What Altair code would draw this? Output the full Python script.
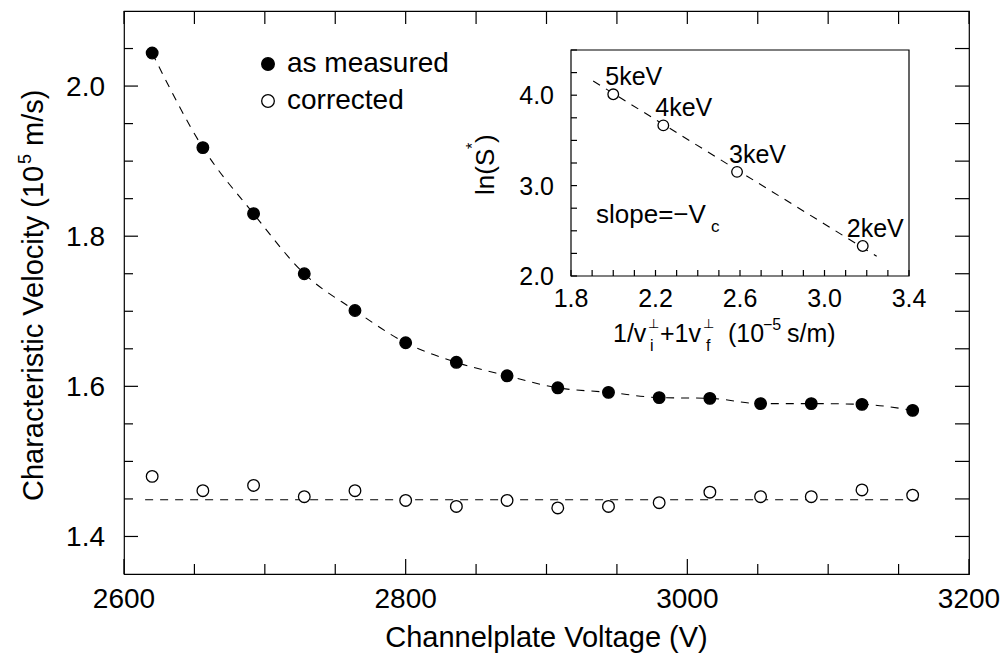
import altair as alt
import pandas as pd

FONT = "Liberation Sans"

# ---------------- main panel data ----------------
voltage = [2620, 2656, 2692, 2728, 2764, 2800, 2836, 2872,
           2908, 2944, 2980, 3016, 3052, 3088, 3124, 3160]
v_measured = [2.044, 1.918, 1.830, 1.750, 1.701, 1.658, 1.632, 1.614,
              1.598, 1.592, 1.585, 1.584, 1.577, 1.577, 1.576, 1.568]
v_corrected = [1.480, 1.461, 1.468, 1.453, 1.461, 1.448, 1.440, 1.448,
               1.438, 1.440, 1.445, 1.459, 1.453, 1.453, 1.462, 1.455]
series_names = ["as measured", "corrected"]
series_fill = ["black", "white"]
corr_fit_voltage = [2615, 3165]
corr_fit_value = [1.449, 1.449]

x_domain = [2600, 3200]
y_domain = [1.35, 2.1]
x_major = [2600, 2800, 3000, 3200]
x_minor = [2650, 2700, 2750, 2850, 2900, 2950, 3050, 3100, 3150]
y_major = [1.4, 1.6, 1.8, 2.0]
y_minor = [1.45, 1.5, 1.55, 1.65, 1.7, 1.75, 1.85, 1.9, 1.95, 2.05]

x_title = "Channelplate Voltage (V)"
y_title_parts = ["Characteristic Velocity (10", "5", "m/s)"]

# ---------------- inset data ----------------
inset_x = [2.0, 2.237, 2.586, 3.181]
inset_y = [4.01, 3.666, 3.152, 2.332]
inset_labels = ["5keV", "4keV", "3keV", "2keV"]
inset_fit_x = [1.905, 3.247]
inset_fit_y = [4.157, 2.218]
inset_x_domain = [1.8, 3.4]
inset_y_domain = [2.0, 4.5]
inset_x_ticks = [1.8, 1.9, 2.0, 2.1, 2.2, 2.3, 2.4, 2.5, 2.6, 2.7, 2.8,
                 2.9, 3.0, 3.1, 3.2, 3.3, 3.4]
inset_x_labels = [1.8, 2.2, 2.6, 3.0, 3.4]
inset_y_ticks = [2.0, 2.25, 2.5, 2.75, 3.0, 3.25, 3.5, 3.75, 4.0, 4.25, 4.5]
inset_y_labels = [2.0, 3.0, 4.0]
inset_x_title_parts = ["1/v", "i", "\u22a5", "+1v", "f", "\u22a5", "(10", "\u22125", "s/m)"]
inset_y_title_parts = ["ln(S", "*", ")"]
slope_parts = ["slope=\u2212V", "c"]

# ---------------- layout ----------------
W, H = 845, 563
IX0, IX1, IY0, IY1 = 447, 785, 265, 39

xs = alt.Scale(domain=x_domain, nice=False, zero=False)
ys = alt.Scale(domain=y_domain, nice=False, zero=False)
ixs = alt.Scale(domain=inset_x_domain, range=[IX0, IX1], nice=False, zero=False)
iys = alt.Scale(domain=inset_y_domain, range=[IY0, IY1], nice=False, zero=False)

RULE = dict(color="black", strokeWidth=1.2)


def xticks(values, scale, y0, y1):
    return alt.Chart(pd.DataFrame({"v": values})).mark_rule(**RULE).encode(
        x=alt.X("v:Q", scale=scale, axis=None), y=alt.value(y0), y2=alt.value(y1))


def yticks(values, scale, x0, x1):
    return alt.Chart(pd.DataFrame({"v": values})).mark_rule(**RULE).encode(
        y=alt.Y("v:Q", scale=scale, axis=None), x=alt.value(x0), x2=alt.value(x1))


def xlabels(values, scale, y, size, fmt):
    return alt.Chart(pd.DataFrame({"v": values})).transform_calculate(
        lab=f"format(datum.v, '{fmt}')").mark_text(
        align="center", baseline="alphabetic", font=FONT, fontSize=size, color="black").encode(
        x=alt.X("v:Q", scale=scale, axis=None), y=alt.value(y), text="lab:N")


def ylabels(values, scale, x, size, fmt, dy):
    return alt.Chart(pd.DataFrame({"v": values})).transform_calculate(
        lab=f"format(datum.v, '{fmt}')").mark_text(
        align="right", baseline="alphabetic", font=FONT, fontSize=size, color="black", dy=dy).encode(
        y=alt.Y("v:Q", scale=scale, axis=None), x=alt.value(x), text="lab:N")


def piece(text, x, y, size, angle=0, align="left"):
    return alt.Chart(pd.DataFrame({"t": [text]})).mark_text(
        align=align, baseline="alphabetic", font=FONT, fontSize=size,
        color="black", angle=angle).encode(text="t:N", x=alt.value(x), y=alt.value(y))


# ---------------- main panel ----------------
meas = pd.DataFrame({"voltage": voltage, "velocity": v_measured})
corr_fit = pd.DataFrame({"voltage": corr_fit_voltage, "velocity": corr_fit_value})
pts = pd.DataFrame({
    "voltage": voltage + voltage,
    "velocity": v_measured + v_corrected,
    "series": [series_names[0]] * len(voltage) + [series_names[1]] * len(voltage),
})

DASH = dict(color="black", strokeWidth=1.1, strokeDash=[8, 7])

fit_line = alt.Chart(meas).mark_line(interpolate="monotone", **DASH).encode(
    x=alt.X("voltage:Q", scale=xs, axis=None),
    y=alt.Y("velocity:Q", scale=ys, axis=None))
corr_line = alt.Chart(corr_fit).mark_line(**DASH).encode(
    x=alt.X("voltage:Q", scale=xs, axis=None),
    y=alt.Y("velocity:Q", scale=ys, axis=None))

points = alt.Chart(pts).mark_point(shape="circle", filled=True, size=135, stroke="black",
                                   strokeWidth=1.3, opacity=1).encode(
    x=alt.X("voltage:Q", scale=xs, axis=None),
    y=alt.Y("velocity:Q", scale=ys, axis=None),
    fill=alt.Fill("series:N", scale=alt.Scale(domain=series_names, range=series_fill),
                  legend=alt.Legend(orient="none", legendX=130, legendY=39, title=None,
                                    labelFont=FONT, labelFontSize=28, labelColor="black",
                                    labelLimit=400, labelOffset=5, symbolType="circle",
                                    symbolSize=160, symbolStrokeColor="black",
                                    symbolStrokeWidth=1.3, rowPadding=9, padding=0)))

main = alt.layer(
    fit_line, corr_line,
    xticks(x_major, xs, H, H - 15), xticks(x_minor, xs, H, H - 10),
    xticks(x_major + x_minor, xs, 0, 13),
    yticks(y_major, ys, 0, 14), yticks(y_minor, ys, 0, 9),
    yticks(y_major + y_minor, ys, W, W - 14),
    xlabels(x_major, xs, 597, 28, "d"),
    ylabels(y_major, ys, -19, 28, ".1f", 10),
    points,
)

# ---------------- inset ----------------
box = alt.Chart(pd.DataFrame({"x0": [inset_x_domain[0]], "x1": [inset_x_domain[1]],
                              "y0": [inset_y_domain[0]], "y1": [inset_y_domain[1]]})).mark_rect(
    fill="white", stroke="black", strokeWidth=1.2).encode(
    x=alt.X("x0:Q", scale=ixs, axis=None), x2="x1:Q",
    y=alt.Y("y0:Q", scale=iys, axis=None), y2="y1:Q")

ifit = alt.Chart(pd.DataFrame({"x": inset_fit_x, "y": inset_fit_y})).mark_line(**DASH).encode(
    x=alt.X("x:Q", scale=ixs, axis=None), y=alt.Y("y:Q", scale=iys, axis=None))

ipdata = pd.DataFrame({"x": inset_x, "y": inset_y, "label": inset_labels})
ipts = alt.Chart(ipdata).mark_point(shape="circle", filled=True, fill="white", stroke="black",
                                    strokeWidth=1.3, size=113, opacity=1).encode(
    x=alt.X("x:Q", scale=ixs, axis=None), y=alt.Y("y:Q", scale=iys, axis=None))

TXT = dict(align="left", baseline="alphabetic", font=FONT, fontSize=25, color="black", dy=-9)
ilabels_a = alt.Chart(ipdata).transform_filter(alt.datum.label != "2keV").mark_text(
    dx=-8, **TXT).encode(x=alt.X("x:Q", scale=ixs, axis=None),
                         y=alt.Y("y:Q", scale=iys, axis=None), text="label:N")
ilabels_b = alt.Chart(ipdata).transform_filter(alt.datum.label == "2keV").mark_text(
    dx=-16, **TXT).encode(x=alt.X("x:Q", scale=ixs, axis=None),
                          y=alt.Y("y:Q", scale=iys, axis=None), text="label:N")

inset = alt.layer(
    box,
    xticks(inset_x_ticks, ixs, IY0, IY0 - 6),
    yticks(inset_y_ticks, iys, IX0, IX0 + 6),
    xlabels(inset_x_labels, ixs, 296, 25, ".1f"),
    ylabels(inset_y_labels, iys, IX0 - 17, 25, ".1f", 9),
    ifit, ipts, ilabels_a, ilabels_b,
)

# ---------------- composite texts ----------------
pieces = [
    # main x title
    piece(x_title, W / 2, 636, 29, align="center"),
    # main y title (rotated)
    piece(y_title_parts[0], -81, 490, 29, 270),
    piece(y_title_parts[1], -93, 153, 18, 270),
    piece(y_title_parts[2], -81, 135, 29, 270),
    # inset x title
    piece(inset_x_title_parts[0], 489, 331, 25),
    piece(inset_x_title_parts[1], 526, 340, 16),
    piece(inset_x_title_parts[2], 524, 317, 13),
    piece(inset_x_title_parts[3], 536, 331, 25),
    piece(inset_x_title_parts[4], 582, 340, 16),
    piece(inset_x_title_parts[5], 579, 317, 13),
    piece(inset_x_title_parts[6], 604, 331, 25),
    piece(inset_x_title_parts[7], 639, 319, 16),
    piece(inset_x_title_parts[8], 663, 331, 25),
    # inset y title (rotated)
    piece(inset_y_title_parts[0], 370, 184, 26, 270),
    piece(inset_y_title_parts[1], 354, 138, 16, 270),
    piece(inset_y_title_parts[2], 370, 132, 26, 270),
    # slope annotation
    piece(slope_parts[0], 472, 212, 26),
    piece(slope_parts[1], 587, 221, 17),
]

chart = alt.layer(main, inset, *pieces).resolve_scale(
    x="independent", y="independent"
).properties(
    width=W, height=H,
    autosize=alt.AutoSizeParams(type="none"),
    padding={"left": 124, "top": 11, "right": 34, "bottom": 81},
).configure_view(stroke="black", strokeWidth=1.2)

chart.save("out.html", embed_options={"renderer": "svg", "actions": False})
